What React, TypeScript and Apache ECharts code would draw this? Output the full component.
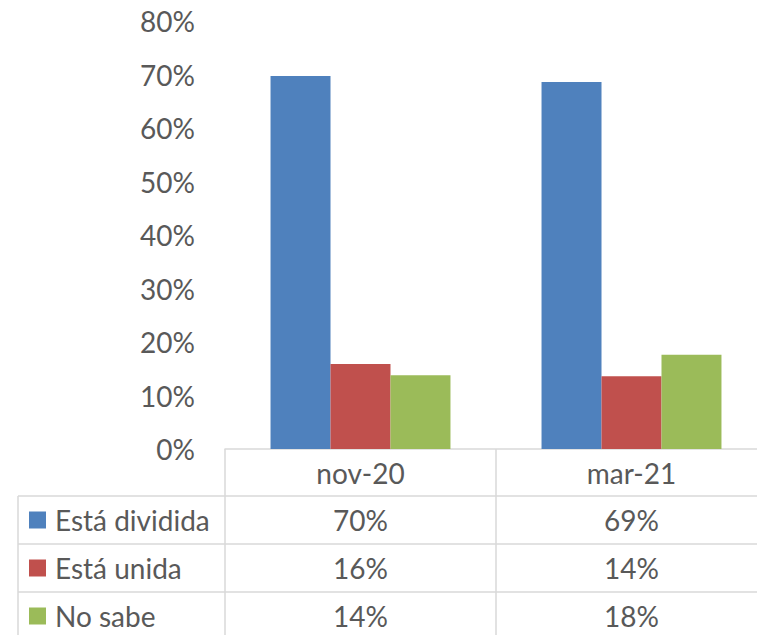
import React, { useEffect, useRef } from "react";
import * as echarts from "echarts";

const categories = ["nov-20", "mar-21"];
const seriesNames = ["Está dividida", "Está unida", "No sabe"];
const dividida = [69.7, 68.6];
const unida = [15.9, 13.6];
const noSabe = [13.8, 17.6];
const colors = ["#4F81BD", "#C0504D", "#9BBB59"];
const yTicks = { min: 0, max: 80, interval: 10 };

const FONT = "Lato";
const FS = 28;
const TXT = "#595959";
const LINE = "#d9d9d9";

export default function App() {
  const ref = useRef<HTMLDivElement>(null);
  useEffect(() => {
    if (!ref.current) return;
    const chart = echarts.init(ref.current, null, { renderer: "svg" });
    const seriesData = [dividida, unida, noSabe];
    const gridLeft = 225;
    const gridTop = 21;
    const gridHeight = 428;
    const gridWidth = 542;
    chart.setOption({
      animation: false,
      grid: { left: gridLeft, top: gridTop, height: gridHeight, width: gridWidth },
      xAxis: {
        type: "category",
        data: categories,
        axisLine: { lineStyle: { color: LINE, width: 1.5 } },
        axisTick: { show: false },
        axisLabel: { show: true, margin: 10, fontFamily: FONT, fontSize: FS, color: TXT, lineHeight: 28 },
      },
      yAxis: {
        type: "value",
        min: yTicks.min,
        max: yTicks.max,
        interval: yTicks.interval,
        splitLine: { show: false },
        axisLine: { show: false },
        axisTick: { show: false },
        axisLabel: { formatter: "{value}%", margin: 30, fontFamily: FONT, fontSize: FS, color: TXT },
      },
      series: seriesNames.map((name, i) => ({
        type: "bar",
        name,
        data: seriesData[i],
        barGap: "0%",
        barCategoryGap: "33.6%",
        itemStyle: { color: colors[i] },
      })),
    });

    const band = gridWidth / categories.length;
    const centers = categories.map((c) => chart.convertToPixel({ xAxisIndex: 0 }, c) as number);
    const axisY = gridTop + gridHeight;
    const headerBottom = 496;
    const rowH = 48;
    const tableLeft = 18;
    const right = gridLeft + gridWidth;
    const bottom = headerBottom + rowH * 3 + 10;
    const els: any[] = [];
    const line = (x1: number, y1: number, x2: number, y2: number) =>
      els.push({ type: "line", shape: { x1, y1, x2, y2 }, style: { stroke: LINE, lineWidth: 1.5 }, silent: true });
    for (let r = 0; r <= 3; r++) {
      const y = headerBottom + r * rowH;
      line(tableLeft, y, right, y);
    }
    line(tableLeft, headerBottom, tableLeft, bottom);
    for (let k = 0; k <= categories.length; k++) {
      const x = gridLeft + k * band;
      line(x, axisY, x, bottom);
    }
    seriesNames.forEach((name, i) => {
      const cy = headerBottom + i * rowH + rowH / 2;
      els.push({ type: "rect", shape: { x: 29, y: cy - 8.5, width: 17, height: 17 }, style: { fill: colors[i] } });
      els.push({
        type: "text",
        x: 55,
        y: cy,
        style: { text: name, fontFamily: FONT, fontSize: FS, fill: TXT, verticalAlign: "middle", align: "left" },
      });
      centers.forEach((cx, j) => {
        els.push({
          type: "text",
          x: cx,
          y: cy,
          style: {
            text: Math.round(seriesData[i][j]) + "%",
            fontFamily: FONT,
            fontSize: FS,
            fill: TXT,
            verticalAlign: "middle",
            align: "center",
          },
        });
      });
    });
    chart.setOption({ graphic: { elements: els } });
    return () => chart.dispose();
  }, []);
  return (
    <div
      ref={ref}
      style={{ position: "fixed", left: 0, top: 0, width: 780, height: 635, background: "#fff" }}
    />
  );
}
